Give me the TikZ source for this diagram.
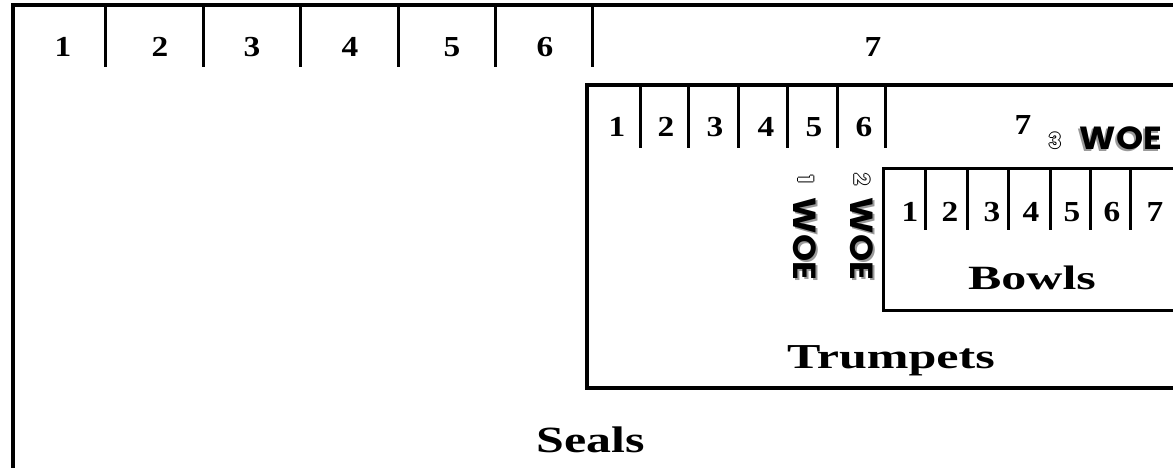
\documentclass[tikz,border=0pt]{standalone}
\usepackage{fontspec}
\setmainfont{Liberation Serif}
\newfontfamily\woefont{Poppins}
\usetikzlibrary{positioning}
\definecolor{woeshadow}{HTML}{9A9A9A}
% white digit with a thin black rim
\newcommand\hollow[1]{\leavevmode\rlap{\raisebox{1pt}{#1}}\rlap{\raisebox{-1pt}{#1}}\rlap{\hspace{1pt}#1}\rlap{\hspace{-1pt}#1}\textcolor{white}{#1}}

\begin{document}
\begin{tikzpicture}[
  x=1pt, y=-1pt,
  every node/.style={inner sep=0pt},
  frame/.style={line width=4pt},
  divider/.style={line width=3pt},
  num/.style={font=\bfseries\fontsize{29}{29}\selectfont},
  caption/.style={font=\bfseries\fontsize{35}{35}\selectfont, anchor=base},
  woe/.style={font=\woefont\bfseries\fontsize{32}{32}\selectfont},
  woeshade/.style={woe, text=woeshadow},
  woetag/.style={font=\woefont\bfseries\fontsize{21}{21}\selectfont}
]
\useasboundingbox (0,0) rectangle (1173,467);
\clip (0,0) rectangle (1173,467);

% Seals: outer frame, dividers, numbers
\draw[frame] (13,490) |- (1200,5);
\draw[divider] (105,5) -- (105,67);
\draw[divider] (203,5) -- (203,67);
\draw[divider] (300,5) -- (300,67);
\draw[divider] (398,5) -- (398,67);
\draw[divider] (495,5) -- (495,67);
\draw[divider] (592,5) -- (592,67);
\node[num] (s1) at (63,47)  {\scalebox{1.15}[1]{1}};
\node[num] (s2) at (160,47) {\scalebox{1.15}[1]{2}};
\node[num] (s3) at (252,47) {\scalebox{1.15}[1]{3}};
\node[num] (s4) at (350,47) {\scalebox{1.15}[1]{4}};
\node[num] (s5) at (452,47) {\scalebox{1.15}[1]{5}};
\node[num] (s6) at (545,47) {\scalebox{1.15}[1]{6}};
\node[num] (s7) at (873,47) {\scalebox{1.15}[1]{7}};
\node[caption, font=\bfseries\fontsize{37}{37}\selectfont] (seals) at (591,452) {\scalebox{1.35}[1]{Seals}};

% Trumpets: inner frame, dividers, numbers
\draw[frame] (1200,85) -| (587,388) -- (1200,388);
\draw[divider] (640,85) -- (640,148);
\draw[divider] (688,85) -- (688,148);
\draw[divider] (738,85) -- (738,148);
\draw[divider] (787,85) -- (787,148);
\draw[divider] (837,85) -- (837,148);
\draw[divider] (885,85) -- (885,148);
\node[num] (t1) at (617,127)  {\scalebox{1.15}[1]{1}};
\node[num] (t2) at (666,127)  {\scalebox{1.15}[1]{2}};
\node[num] (t3) at (715,127)  {\scalebox{1.15}[1]{3}};
\node[num] (t4) at (766,127)  {\scalebox{1.15}[1]{4}};
\node[num] (t5) at (814,127)  {\scalebox{1.15}[1]{5}};
\node[num] (t6) at (864,127)  {\scalebox{1.15}[1]{6}};
\node[num] (t7) at (1023,125) {\scalebox{1.15}[1]{7}};
\node[caption] (trumpets) at (891,368) {\scalebox{1.43}[1]{Trumpets}};

% Bowls: innermost frame, dividers, numbers
\draw[frame, line width=3pt] (1200,168) -| (883,310) -- (1200,310);
\draw[divider] (925,168) -- (925,230);
\draw[divider] (967,168) -- (967,230);
\draw[divider] (1008,168) -- (1008,230);
\draw[divider] (1050,168) -- (1050,230);
\draw[divider] (1090,168) -- (1090,230);
\draw[divider] (1130,168) -- (1130,230);
\node[num] (b1) at (910,212)  {\scalebox{1.15}[1]{1}};
\node[num] (b2) at (950,212)  {\scalebox{1.15}[1]{2}};
\node[num] (b3) at (992,212)  {\scalebox{1.15}[1]{3}};
\node[num] (b4) at (1031,212) {\scalebox{1.15}[1]{4}};
\node[num] (b5) at (1072,212) {\scalebox{1.15}[1]{5}};
\node[num] (b6) at (1112,212) {\scalebox{1.15}[1]{6}};
\node[num] (b7) at (1155,212) {\scalebox{1.15}[1]{7}};
\node[caption, font=\bfseries\fontsize{34}{34}\selectfont] (bowls) at (1032,289) {\scalebox{1.47}[1]{Bowls}};

% woe marks
\node[woeshade] at (1119,140) {\scalebox{1.08}[1]{WOE}};
\node[woe] (woe3) at (1121,138) {\scalebox{1.08}[1]{WOE}};
\node[woetag] (tag3) at (1055,141) {\hollow{3}};

\node[woeshade, rotate=-90] at (807,241) {\scalebox{1.08}[1]{WOE}};
\node[woe, rotate=-90] (woe1) at (805,239) {\scalebox{1.08}[1]{WOE}};
\node[woetag, rotate=-90] (tag1) at (806,179) {\hollow{1}};

\node[woeshade, rotate=-90] at (864,241) {\scalebox{1.08}[1]{WOE}};
\node[woe, rotate=-90] (woe2) at (862,239) {\scalebox{1.08}[1]{WOE}};
\node[woetag, rotate=-90] (tag2) at (862,179) {\hollow{2}};
\end{tikzpicture}
\end{document}
